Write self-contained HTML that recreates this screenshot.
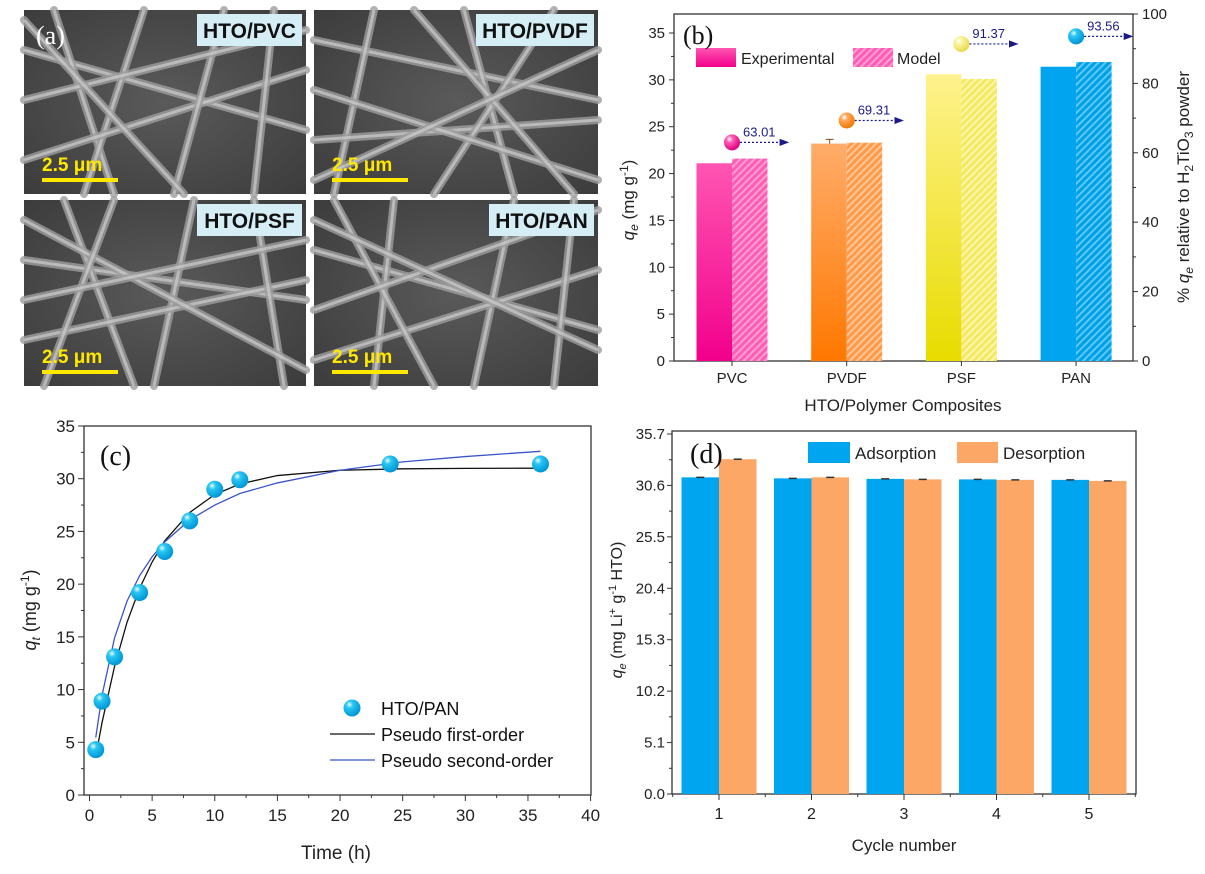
<!DOCTYPE html>
<html><head><meta charset="utf-8"><style>
html,body{margin:0;padding:0;background:#fff;}
svg{display:block;font-family:"Liberation Sans",sans-serif;}
.tk{font-size:15px;fill:#222;}
</style></head><body>
<svg id="fig" width="1205" height="874" viewBox="0 0 1205 874" xmlns="http://www.w3.org/2000/svg">
<defs>
  <radialGradient id="ballBlue" cx="35%" cy="30%" r="70%"><stop offset="0" stop-color="#e8fbff"/><stop offset="0.3" stop-color="#29c6f2"/><stop offset="1" stop-color="#0096d6"/></radialGradient>
  <radialGradient id="ballPink" cx="35%" cy="30%" r="70%"><stop offset="0" stop-color="#fff"/><stop offset="0.3" stop-color="#ff5db5"/><stop offset="1" stop-color="#e0007f"/></radialGradient>
  <radialGradient id="ballOrange" cx="35%" cy="30%" r="70%"><stop offset="0" stop-color="#fff"/><stop offset="0.3" stop-color="#ffa860"/><stop offset="1" stop-color="#f07800"/></radialGradient>
  <radialGradient id="ballYellow" cx="35%" cy="30%" r="70%"><stop offset="0" stop-color="#fff"/><stop offset="0.3" stop-color="#fbf3a0"/><stop offset="1" stop-color="#e8dc50"/></radialGradient>
  <linearGradient id="gPVC" x1="0" y1="0" x2="0" y2="1"><stop offset="0" stop-color="#ff55b2"/><stop offset="1" stop-color="#f2008b"/></linearGradient>
  <linearGradient id="gPVDF" x1="0" y1="0" x2="0" y2="1"><stop offset="0" stop-color="#ffac6a"/><stop offset="1" stop-color="#ff7800"/></linearGradient>
  <linearGradient id="gPSF" x1="0" y1="0" x2="0" y2="1"><stop offset="0" stop-color="#fff28e"/><stop offset="1" stop-color="#e8dc00"/></linearGradient>
  <linearGradient id="gPAN" x1="0" y1="0" x2="0" y2="1"><stop offset="0" stop-color="#00a4ef"/><stop offset="1" stop-color="#00a4ef"/></linearGradient>
  <radialGradient id="semBg" cx="50%" cy="50%" r="75%"><stop offset="0" stop-color="#5a5a5a"/><stop offset="1" stop-color="#3a3a3a"/></radialGradient>
  <pattern id="hPVC" width="5" height="5" patternUnits="userSpaceOnUse" patternTransform="rotate(45)"><rect width="5" height="5" fill="#ff5cb5"/><rect width="2" height="5" fill="#ff9fd2"/></pattern>
  <pattern id="hPVDF" width="5" height="5" patternUnits="userSpaceOnUse" patternTransform="rotate(45)"><rect width="5" height="5" fill="#ff9a4a"/><rect width="2" height="5" fill="#ffc898"/></pattern>
  <pattern id="hPSF" width="5" height="5" patternUnits="userSpaceOnUse" patternTransform="rotate(45)"><rect width="5" height="5" fill="#f4ea60"/><rect width="2" height="5" fill="#fbf5b0"/></pattern>
  <pattern id="hPAN" width="5" height="5" patternUnits="userSpaceOnUse" patternTransform="rotate(45)"><rect width="5" height="5" fill="#00a0e8"/><rect width="2" height="5" fill="#5cc8f5"/></pattern>
  <marker id="arr" markerWidth="8" markerHeight="6" refX="7" refY="3" orient="auto"><path d="M0,0 L8,3 L0,6 z" fill="#1a1a8a"/></marker>
</defs>
<g id="panelA"></g>
<g id="panelB"></g>
<g id="panelC"></g>
<g id="panelD"></g>
</svg>
<script>
// ---------- data ----------
const semLabels = ["HTO/PVC","HTO/PVDF","HTO/PSF","HTO/PAN"];
const bCategories = ["PVC","PVDF","PSF","PAN"];
const bExperimental = [21.1, 23.2, 30.6, 31.4];
const bModel = [21.6, 23.3, 30.1, 31.9];
const bPercent = [63.01, 69.31, 91.37, 93.56];
const bLeftTicks = [0,5,10,15,20,25,30,35];
const bRightTicks = [0,20,40,60,80,100];
const cTime = [0.5,1,2,4,6,8,10,12,24,36];
const cQt = [4.3,8.9,13.1,19.2,23.1,26.0,29.0,29.9,31.4,31.4];
const cFitTime = [0.5,1,2,3,4,5,6,8,10,12,15,20,25,30,36];
const cFirstOrder = [3.65,6.86,12.2,16.4,19.6,22.1,24.1,26.8,28.5,29.5,30.3,30.8,30.94,30.98,31.0];
const cSecondOrder = [5.46,9.45,14.9,18.4,20.8,22.6,24.0,26.1,27.5,28.6,29.6,30.8,31.6,32.1,32.6];
const cXTicks = [0,5,10,15,20,25,30,35,40];
const cYTicks = [0,5,10,15,20,25,30,35];
const dCycles = ["1","2","3","4","5"];
const dAdsorption = [31.4,31.3,31.25,31.2,31.15];
const dDesorption = [33.2,31.4,31.2,31.15,31.05];
const dYTicks = [0.0,5.1,10.2,15.3,20.4,25.5,30.6,35.7];

const NS="http://www.w3.org/2000/svg";
function mk(parent, tag, attrs, text){const e=document.createElementNS(NS,tag);for(const k in attrs)e.setAttribute(k,attrs[k]);if(text!==undefined)e.textContent=text;parent.appendChild(e);return e;}

// ---------- panel a ----------
const A=document.getElementById('panelA');
const tiles=[[24,10],[314,10],[24,200],[314,200]];
const fibers=[
 [[0,40,282,120],[30,0,90,184],[120,0,60,184],[0,150,282,60],[200,0,150,184],[0,90,282,20],[250,0,230,184],[0,10,160,184]],
 [[0,30,284,90],[60,0,20,184],[150,0,200,184],[0,130,284,110],[240,0,120,184],[0,80,284,170],[100,0,260,184],[0,170,284,40]],
 [[0,60,282,100],[40,0,110,186],[170,0,130,186],[0,140,282,80],[230,0,260,186],[0,20,282,170],[90,0,20,186],[0,100,282,40]],
 [[0,50,284,130],[80,0,60,186],[200,0,160,186],[0,160,284,70],[20,0,120,186],[0,110,284,10],[260,0,240,186],[0,20,284,150]]
];
tiles.forEach((t,i)=>{
  const w=(i%2===0)?282:284, h=(i<2)?184:186;
  const g=mk(A,'g',{transform:`translate(${t[0]},${t[1]})`});
  
  
  mk(g,'rect',{x:0,y:0,width:w,height:h,fill:'url(#semBg)'});
  fibers[i].forEach(f=>{mk(g,'line',{x1:f[0],y1:f[1],x2:f[2],y2:f[3],stroke:'#9e9e9e','stroke-width':8,'stroke-linecap':'round',opacity:0.8});
    mk(g,'line',{x1:f[0],y1:f[1],x2:f[2],y2:f[3],stroke:'#d8d8d8','stroke-width':3,opacity:0.6});});
  const lw=semLabels[i].length*13+14;
  mk(g,'rect',{x:w-lw-4,y:4,width:lw,height:32,fill:'#d5eef5'});
  const lt=mk(g,'text',{x:w-lw/2-4,y:28,'text-anchor':'middle','font-size':21,'font-weight':'bold',fill:'#111'},semLabels[i]);
  
  
  mk(g,'text',{x:18,y:h-23,'font-size':19,'font-weight':'bold',fill:'#ffe800'},'2.5 μm');
  mk(g,'rect',{x:18,y:h-16,width:76,height:4,fill:'#ffe800'});
});
const aLab=mk(A,'text',{x:36,y:44,'font-size':26,'font-family':'Liberation Serif, serif',fill:'#fff'},'(a)');



// ---------- panel b ----------
const B=document.getElementById('panelB');
const bL=674,bR=1133,bT=14,bB=361;
const byL=v=>bB-v*(bB-33)/35;
const byR=v=>bB-v*(bB-bT)/100;
const bxC=i=>732+i*114.7;
mk(B,'rect',{x:bL,y:bT,width:bR-bL,height:bB-bT,fill:'none',stroke:'#333','stroke-width':1.3});
bLeftTicks.forEach(v=>{const y=byL(v);mk(B,'line',{x1:bL-5,y1:y,x2:bL,y2:y,stroke:'#333'});
 mk(B,'text',{x:bL-9,y:y+5,'text-anchor':'end',class:'tk'},v);});
for(let v=2.5;v<37;v+=5){const y=byL(v);mk(B,'line',{x1:bL-3,y1:y,x2:bL,y2:y,stroke:'#333'});}
bRightTicks.forEach(v=>{const y=byR(v);mk(B,'line',{x1:bR,y1:y,x2:bR+5,y2:y,stroke:'#333'});
 mk(B,'text',{x:bR+9,y:y+5,class:'tk'},v);});
for(let v=10;v<100;v+=20){const y=byR(v);mk(B,'line',{x1:bR,y1:y,x2:bR+3,y2:y,stroke:'#333'});}
const fills=['gPVC','gPVDF','gPSF','gPAN'], hatches=['hPVC','hPVDF','hPSF','hPAN'], balls=['ballPink','ballOrange','ballYellow','ballBlue'];
bCategories.forEach((c,i)=>{
  const cx=bxC(i), bw=35.5;
  const r1=mk(B,'rect',{x:cx-bw,y:byL(bExperimental[i]),width:bw,height:bB-byL(bExperimental[i]),fill:`url(#${fills[i]})`});
  
  
  const r2=mk(B,'rect',{x:cx,y:byL(bModel[i]),width:bw,height:bB-byL(bModel[i]),fill:`url(#${hatches[i]})`});
  
  
  mk(B,'line',{x1:cx,y1:bB,x2:cx,y2:bB+5,stroke:'#333'});
  mk(B,'text',{x:cx,y:bB+22,'text-anchor':'middle',class:'tk'},c);
  const py=byR(bPercent[i]);
  mk(B,'line',{x1:cx+8,y1:py,x2:cx+56,y2:py,stroke:'#1a1a8a','stroke-width':1.2,'stroke-dasharray':'2,2','marker-end':'url(#arr)'});
  const ball=mk(B,'circle',{cx:cx,cy:py,r:8,fill:`url(#${balls[i]})`});
  
  
  mk(B,'text',{x:cx+11,y:py-6,'font-size':13,fill:'#1a1a8a'},bPercent[i].toFixed(2));
});
mk(B,'line',{x1:bxC(1)-17,y1:byL(23.65),x2:bxC(1)-17,y2:byL(bExperimental[1]),stroke:'#8a4a10'});
mk(B,'line',{x1:bxC(1)-21,y1:byL(23.65),x2:bxC(1)-13,y2:byL(23.65),stroke:'#8a4a10'});
const bLeg=mk(B,'g',{});


mk(bLeg,'rect',{x:696,y:48,width:40,height:19,fill:'url(#gPVC)'});
mk(bLeg,'text',{x:741,y:64,'font-size':16,fill:'#222'},'Experimental');
mk(bLeg,'rect',{x:853,y:48,width:40,height:19,fill:'url(#hPVC)'});
mk(bLeg,'text',{x:897,y:64,'font-size':16,fill:'#222'},'Model');
mk(B,'text',{x:683,y:44,'font-size':26,'font-family':'Liberation Serif, serif',fill:'#111'},'(b)');
mk(B,'text',{x:903,y:411,'text-anchor':'middle','font-size':17,fill:'#222'},'HTO/Polymer Composites');
const bYT=mk(B,'text',{transform:'translate(634,200) rotate(-90)','text-anchor':'middle','font-size':17,fill:'#222'});
bYT.innerHTML='<tspan font-style="italic">q</tspan><tspan font-size="12" font-style="italic" dy="4">e</tspan><tspan dy="-4"> (mg g</tspan><tspan font-size="12" dy="-6">-1</tspan><tspan dy="6">)</tspan>';
const bRT=mk(B,'text',{transform:'translate(1189,187) rotate(-90)','text-anchor':'middle','font-size':17,fill:'#222'});
bRT.innerHTML='% <tspan font-style="italic">q</tspan><tspan font-size="12" font-style="italic" dy="4">e</tspan><tspan dy="-4"> relative to H</tspan><tspan font-size="12" dy="4">2</tspan><tspan dy="-4">TiO</tspan><tspan font-size="12" dy="4">3</tspan><tspan dy="-4"> powder</tspan>';

// ---------- panel c ----------
const C=document.getElementById('panelC');
const cL=84,cR=591,cT=426,cB=795;
const cx=t=>89.5+t*(590.6-89.5)/40;
const cy=v=>cB-v*(cB-cT)/35;
mk(C,'rect',{x:cL,y:cT,width:cR-cL,height:cB-cT,fill:'none',stroke:'#333','stroke-width':1.3});
cXTicks.forEach(v=>{mk(C,'line',{x1:cx(v),y1:cB,x2:cx(v),y2:cB+6,stroke:'#333'});
 mk(C,'text',{x:cx(v),y:cB+26,'text-anchor':'middle','font-size':17,fill:'#222'},v);});
for(let v=2.5;v<40;v+=5)mk(C,'line',{x1:cx(v),y1:cB,x2:cx(v),y2:cB+3,stroke:'#333'});
cYTicks.forEach(v=>{mk(C,'line',{x1:cL-6,y1:cy(v),x2:cL,y2:cy(v),stroke:'#333'});
 mk(C,'text',{x:cL-9,y:cy(v)+6,'text-anchor':'end','font-size':17,fill:'#222'},v);});
for(let v=2.5;v<35;v+=5)mk(C,'line',{x1:cL-3,y1:cy(v),x2:cL,y2:cy(v),stroke:'#333'});
const p1=mk(C,'polyline',{points:cFitTime.map((t,i)=>cx(t)+','+cy(cFirstOrder[i])).join(' '),fill:'none',stroke:'#111','stroke-width':1.3});


const p2=mk(C,'polyline',{points:cFitTime.map((t,i)=>cx(t)+','+cy(cSecondOrder[i])).join(' '),fill:'none',stroke:'#3a55c8','stroke-width':1.3});


cTime.forEach((t,i)=>{const p=mk(C,'circle',{cx:cx(t),cy:cy(cQt[i]),r:8.5,fill:'url(#ballBlue)'});
 
 });
const cLeg=mk(C,'g',{});


mk(cLeg,'circle',{cx:352,cy:708,r:8.5,fill:'url(#ballBlue)'});
mk(cLeg,'text',{x:381,y:715,'font-size':18,fill:'#111'},'HTO/PAN');
mk(cLeg,'line',{x1:330,y1:734,x2:375,y2:734,stroke:'#111','stroke-width':1.3});
mk(cLeg,'text',{x:381,y:741,'font-size':18,fill:'#111'},'Pseudo first-order');
mk(cLeg,'line',{x1:330,y1:760,x2:375,y2:760,stroke:'#3a55c8','stroke-width':1.3});
mk(cLeg,'text',{x:381,y:767,'font-size':18,fill:'#111'},'Pseudo second-order');
mk(C,'text',{x:100,y:465,'font-size':28,'font-family':'Liberation Serif, serif',fill:'#111'},'(c)');
mk(C,'text',{x:336,y:859,'text-anchor':'middle','font-size':19,fill:'#222'},'Time (h)');
const cYT=mk(C,'text',{transform:'translate(36,610) rotate(-90)','text-anchor':'middle','font-size':18,fill:'#222'});
cYT.innerHTML='<tspan font-style="italic">q</tspan><tspan font-size="12" font-style="italic" dy="4">t</tspan><tspan dy="-4"> (mg g</tspan><tspan font-size="12" dy="-7">-1</tspan><tspan dy="7">)</tspan>';

// ---------- panel d ----------
const D=document.getElementById('panelD');
const dL=672,dR=1136,dT=431,dB=794;
const dy=v=>dB-v*(dB-434)/35.7;
const dx=i=>719+i*92.5;
mk(D,'rect',{x:dL,y:dT,width:dR-dL,height:dB-dT,fill:'none',stroke:'#333','stroke-width':1.3});
dYTicks.forEach(v=>{mk(D,'line',{x1:dL-5,y1:dy(v),x2:dL,y2:dy(v),stroke:'#333'});
 mk(D,'text',{x:dL-7,y:dy(v)+5,'text-anchor':'end','font-size':15,fill:'#222'},v.toFixed(1));});
for(let v=2.55;v<35.7;v+=5.1)mk(D,'line',{x1:dL-3,y1:dy(v),x2:dL,y2:dy(v),stroke:'#333'});
dCycles.forEach((c,i)=>{
  const x=dx(i),bw=37.5;
  const a=mk(D,'rect',{x:x-bw,y:dy(dAdsorption[i]),width:bw,height:dB-dy(dAdsorption[i]),fill:'#00a5ef'});
  
  
  const d=mk(D,'rect',{x:x,y:dy(dDesorption[i]),width:bw,height:dB-dy(dDesorption[i]),fill:'#fca766'});
  
  
  mk(D,'line',{x1:x-bw/2-4,y1:dy(dAdsorption[i]),x2:x-bw/2+4,y2:dy(dAdsorption[i]),stroke:'#333','stroke-width':1.5});
  mk(D,'line',{x1:x+bw/2-4,y1:dy(dDesorption[i]),x2:x+bw/2+4,y2:dy(dDesorption[i]),stroke:'#333','stroke-width':1.5});
  mk(D,'line',{x1:x,y1:dB,x2:x,y2:dB+6,stroke:'#333'});
  mk(D,'text',{x:x,y:dB+25,'text-anchor':'middle','font-size':16,fill:'#222'},c);
});
for(let i=0;i<=5;i++){const x=dx(i)-46.25;mk(D,'line',{x1:x,y1:dB,x2:x,y2:dB+3,stroke:'#333'});}
const dLeg=mk(D,'g',{});


mk(dLeg,'rect',{x:808,y:442,width:42,height:21,fill:'#00a5ef'});
mk(dLeg,'text',{x:855,y:459,'font-size':17,fill:'#222'},'Adsorption');
mk(dLeg,'rect',{x:957,y:442,width:41,height:21,fill:'#fca766'});
mk(dLeg,'text',{x:1003,y:459,'font-size':17,fill:'#222'},'Desorption');
mk(D,'text',{x:690,y:463,'font-size':28,'font-family':'Liberation Serif, serif',fill:'#111'},'(d)');
mk(D,'text',{x:904,y:851,'text-anchor':'middle','font-size':17,fill:'#222'},'Cycle number');
const dYT=mk(D,'text',{transform:'translate(622,610) rotate(-90)','text-anchor':'middle','font-size':16,fill:'#222'});
dYT.innerHTML='<tspan font-style="italic">q</tspan><tspan font-size="11" font-style="italic" dy="4">e</tspan><tspan dy="-4"> (mg Li</tspan><tspan font-size="11" dy="-6">+</tspan><tspan dy="6"> g</tspan><tspan font-size="11" dy="-6">-1</tspan><tspan dy="6"> HTO)</tspan>';
</script>
</body></html>
